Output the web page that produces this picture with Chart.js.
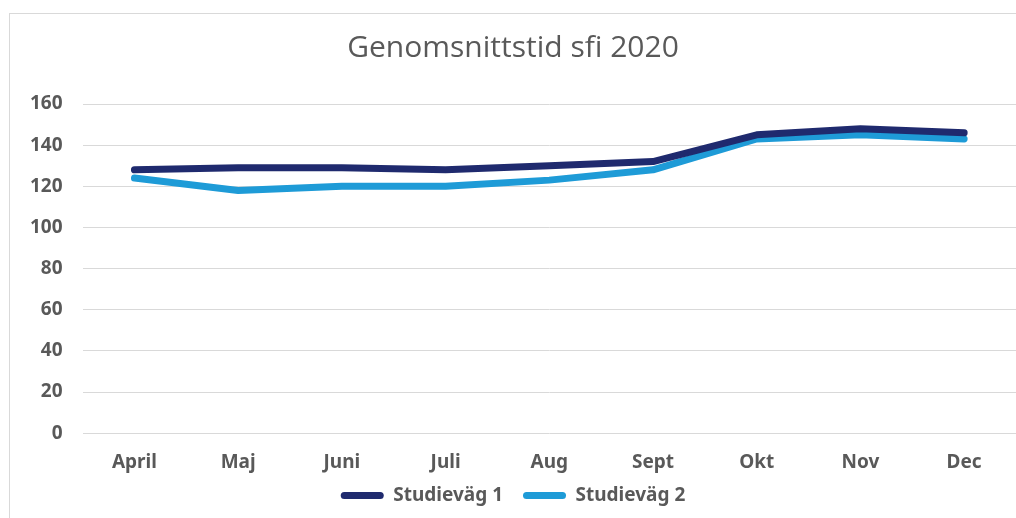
<!DOCTYPE html>
<html>
<head>
<meta charset="utf-8">
<script src="https://cdn.jsdelivr.net/npm/chart.js@4/dist/chart.umd.min.js"></script>
<style>
  body { margin: 0; background: #fff; }
  #wrap { position: relative; width: 1016px; height: 518px; overflow: hidden; }
  #frame { position: absolute; left: 9px; top: 13px; width: 1100px; height: 600px; border: 1px solid #d9d9d9; }
  canvas { position: absolute; left: 0; top: 0; }
</style>
</head>
<body>
<div id="wrap">
  <div id="frame"></div>
  <canvas id="sfiChart" width="1016" height="518"></canvas>
</div>
<script>
// data
var months = ['April', 'Maj', 'Juni', 'Juli', 'Aug', 'Sept', 'Okt', 'Nov', 'Dec'];
var studievag1 = [128, 129, 129, 128, 130, 132, 145, 148, 146];
var studievag2 = [124, 118, 120, 120, 123, 128, 143, 145, 143];
var seriesNames = ['Studieväg 1', 'Studieväg 2'];

var textGrey = '#595959';
var gridGrey = '#d9d9d9';

// pull the legend up closer to the month labels
const legendShift = {
  id: 'legendShift',
  afterLayout: function(chart) {
    if (chart.legend) {
      chart.legend.top -= 26;
      chart.legend.bottom -= 26;
    }
  }
};

const ctx = document.getElementById('sfiChart');

let sfiChart = new Chart(ctx, {
  type: 'line',
  plugins: [legendShift],
  data: {
    labels: months,
    datasets: [
      {
        label: seriesNames[0],
        data: studievag1,
        borderColor: '#1f2a6e',
        backgroundColor: '#1f2a6e',
        borderWidth: 7,
        borderCapStyle: 'round',
        borderJoinStyle: 'round',
        pointRadius: 0,
        tension: 0
      },
      {
        label: seriesNames[1],
        data: studievag2,
        borderColor: '#1e9bd7',
        backgroundColor: '#1e9bd7',
        borderWidth: 7,
        borderCapStyle: 'round',
        borderJoinStyle: 'round',
        pointRadius: 0,
        tension: 0
      }
    ]
  },
  options: {
    responsive: false,
    animation: false,
    layout: { padding: { left: 10, right: 0, top: 0, bottom: -23 } },
    plugins: {
      title: {
        display: true,
        text: 'Genomsnittstid sfi 2020',
        color: textGrey,
        font: { family: '"Open Sans", sans-serif', size: 30, weight: 'normal' },
        padding: { top: 30, bottom: 38 }
      },
      legend: {
        position: 'bottom',
        labels: {
          color: textGrey,
          font: { family: '"Noto Sans", sans-serif', size: 19, weight: 'bold' },
          boxWidth: 43,
          boxHeight: 7,
          useBorderRadius: true,
          borderRadius: 3.5,
          padding: 20,
          generateLabels: function(chart) {
            var items = Chart.defaults.plugins.legend.labels.generateLabels(chart);
            items.forEach(function(it) { it.lineWidth = 0; });
            return items;
          }
        }
      },
      tooltip: { enabled: false }
    },
    scales: {
      x: {
        offset: true,
        grid: { display: false, drawTicks: false },
        border: { display: false },
        ticks: {
          color: textGrey,
          padding: 18,
          font: { family: '"Noto Sans", sans-serif', size: 19, weight: 'bold' }
        }
      },
      y: {
        min: 0,
        max: 160,
        grid: { color: gridGrey, lineWidth: 1, drawTicks: false },
        border: { display: false },
        ticks: {
          stepSize: 20,
          color: textGrey,
          padding: 20,
          font: { family: '"Noto Sans", sans-serif', size: 19, weight: 'bold' }
        }
      }
    }
  }
});
</script>
</body>
</html>
